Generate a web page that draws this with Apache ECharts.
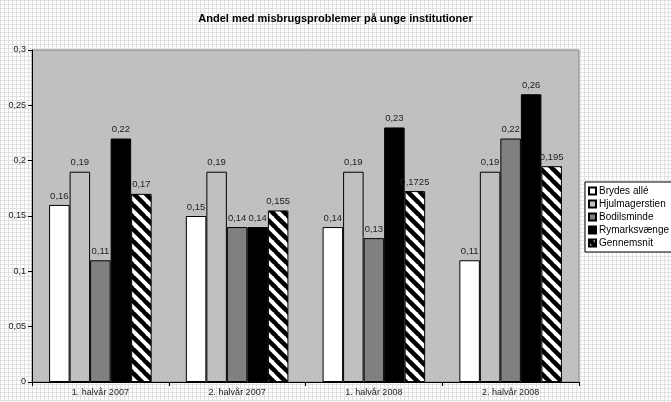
<!DOCTYPE html>
<html>
<head>
<meta charset="utf-8">
<script src="https://cdn.jsdelivr.net/npm/echarts@6/dist/echarts.min.js"></script>
<style>
  html, body { margin: 0; padding: 0; }
  #chart { width: 671px; height: 402px; }
</style>
</head>
<body>
<div id="chart"></div>
<script>
const categories = ['1. halvår 2007', '2. halvår 2007', '1. halvår 2008', '2. halvår 2008']
const brydes = [0.16, 0.15, 0.14, 0.11]
const hjulmager = [0.19, 0.19, 0.19, 0.19]
const bodilsminde = [0.11, 0.14, 0.13, 0.22]
const rymarks = [0.22, 0.14, 0.23, 0.26]
const gennemsnit = [0.17, 0.155, 0.1725, 0.195]

// faint grid paper for the page background
function paperPattern() {
  const c = document.createElement('canvas')
  c.width = 4
  c.height = 4
  const ctx = c.getContext('2d')
  ctx.fillStyle = '#ffffff'
  ctx.fillRect(0, 0, 4, 4)
  ctx.fillStyle = '#e0e0e0'
  ctx.fillRect(0, 0, 4, 1)
  ctx.fillRect(0, 0, 1, 4)
  return c
}

// diagonal black/white stripes for the average
function stripePattern() {
  const s = 12
  const c = document.createElement('canvas')
  c.width = s
  c.height = s
  const ctx = c.getContext('2d')
  ctx.fillStyle = '#ffffff'
  ctx.fillRect(0, 0, s, s)
  ctx.strokeStyle = '#000000'
  ctx.lineWidth = 4.5
  for (let k = -1; k <= 1; k++) {
    ctx.beginPath()
    ctx.moveTo(k * s - 1, -1)
    ctx.lineTo(k * s + s + 1, s + 1)
    ctx.stroke()
  }
  return c
}

const fmt = p => String(p.value).replace('.', ',')
const labelStyle = {
  show: true,
  position: 'top',
  distance: 4,
  fontSize: 9.5,
  color: '#222',
  fontFamily: 'Liberation Sans, Arial',
  formatter: fmt
}

function barSeries(name, data, color) {
  return {
    name: name,
    type: 'bar',
    data: data,
    barGap: '0%',
    barCategoryGap: '25%',
    itemStyle: { color: color, borderColor: '#000', borderWidth: 1 },
    label: labelStyle
  }
}

const chart = echarts.init(document.getElementById('chart'))
chart.setOption({
  animation: false,
  backgroundColor: { image: paperPattern(), repeat: 'repeat' },
  textStyle: { fontFamily: 'Liberation Sans, Arial' },
  title: {
    text: 'Andel med misbrugsproblemer på unge institutioner',
    left: 'center',
    top: 8,
    textStyle: { fontSize: 11, fontWeight: 'bold', color: '#000' }
  },
  legend: {
    orient: 'vertical',
    left: 585,
    top: 182,
    padding: [4, 6, 4, 3],
    icon: 'rect',
    itemWidth: 7,
    itemHeight: 7,
    itemGap: 3,
    backgroundColor: '#fff',
    borderColor: '#000',
    borderWidth: 1,
    borderRadius: 0,
    textStyle: { fontSize: 10, color: '#000', padding: [0, 0, 0, -2] },
    data: ['Brydes allé', 'Hjulmagerstien', 'Bodilsminde', 'Rymarksvænge', 'Gennemsnit']
  },
  grid: {
    left: 32,
    right: 92,
    top: 50,
    bottom: 20,
    show: true,
    backgroundColor: '#c0c0c0',
    borderColor: '#808080',
    borderWidth: 1
  },
  xAxis: {
    type: 'category',
    data: categories,
    axisLine: { lineStyle: { color: '#000' } },
    axisTick: { show: true, length: 4, lineStyle: { color: '#000' } },
    axisLabel: { fontSize: 9, color: '#222', margin: 6 },
    splitLine: { show: false }
  },
  yAxis: {
    type: 'value',
    min: 0,
    max: 0.3,
    interval: 0.05,
    axisLine: { show: true, lineStyle: { color: '#000' } },
    axisTick: { show: true, length: 4, lineStyle: { color: '#000' } },
    axisLabel: {
      fontSize: 9,
      color: '#222',
      margin: 6,
      formatter: v => String(Math.round(v * 100) / 100).replace('.', ',')
    },
    splitLine: { show: false }
  },
  series: [
    barSeries('Brydes allé', brydes, '#ffffff'),
    barSeries('Hjulmagerstien', hjulmager, '#c0c0c0'),
    barSeries('Bodilsminde', bodilsminde, '#808080'),
    barSeries('Rymarksvænge', rymarks, '#000000'),
    barSeries('Gennemsnit', gennemsnit, { image: stripePattern(), repeat: 'repeat' })
  ]
})
</script>
</body>
</html>
